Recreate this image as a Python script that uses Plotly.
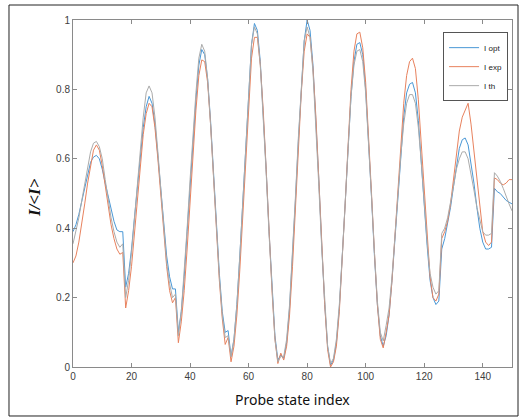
import plotly.graph_objects as go

x_index = list(range(151))

i_opt = [
    0.39, 0.41, 0.44, 0.48, 0.52, 0.56, 0.59, 0.605, 0.61, 0.60, 0.57, 0.53, 0.49, 0.45, 0.42, 0.395, 0.39, 0.39,
    0.23, 0.27, 0.34, 0.43, 0.52, 0.61, 0.69, 0.75, 0.78, 0.76, 0.70, 0.61, 0.51, 0.41, 0.32, 0.26, 0.225, 0.225,
    0.10, 0.16, 0.26, 0.39, 0.52, 0.65, 0.77, 0.87, 0.915, 0.90, 0.83, 0.71, 0.56, 0.41, 0.27, 0.16, 0.10, 0.105,
    0.03, 0.08, 0.18, 0.32, 0.48, 0.64, 0.80, 0.93, 0.99, 0.97, 0.88, 0.74, 0.57, 0.39, 0.22, 0.09, 0.02, 0.035,
    0.025, 0.07, 0.17, 0.31, 0.48, 0.65, 0.81, 0.94, 1.0, 0.97, 0.87, 0.72, 0.54, 0.35, 0.18, 0.06, 0.005, 0.02,
    0.07, 0.17, 0.31, 0.47, 0.63, 0.78, 0.88, 0.93, 0.935, 0.90, 0.80, 0.66, 0.49, 0.32, 0.18, 0.09, 0.06, 0.09,
    0.15, 0.25, 0.37, 0.50, 0.62, 0.72, 0.79, 0.815, 0.82, 0.79, 0.71, 0.60, 0.47, 0.35, 0.25, 0.20, 0.18, 0.19,
    0.34, 0.37, 0.41, 0.46, 0.52, 0.58, 0.63, 0.655, 0.66, 0.64, 0.59, 0.53, 0.46, 0.40, 0.36, 0.34, 0.34, 0.345,
    0.515, 0.505, 0.50, 0.49, 0.48, 0.475, 0.47,
]

i_exp = [
    0.30, 0.32, 0.36, 0.41, 0.47, 0.53, 0.58, 0.625, 0.64, 0.625, 0.58, 0.52, 0.46, 0.41, 0.37, 0.34, 0.325, 0.33,
    0.17, 0.22, 0.29, 0.38, 0.48, 0.58, 0.67, 0.73, 0.76, 0.75, 0.69, 0.60, 0.49, 0.38, 0.29, 0.22, 0.185, 0.20,
    0.07, 0.13, 0.22, 0.34, 0.48, 0.61, 0.74, 0.84, 0.885, 0.88, 0.82, 0.70, 0.55, 0.39, 0.25, 0.14, 0.065, 0.085,
    0.015, 0.06, 0.15, 0.28, 0.44, 0.60, 0.76, 0.89, 0.95, 0.95, 0.87, 0.74, 0.57, 0.39, 0.22, 0.08, 0.01, 0.04,
    0.02, 0.06, 0.15, 0.29, 0.46, 0.63, 0.79, 0.91, 0.96, 0.95, 0.86, 0.72, 0.54, 0.35, 0.18, 0.05, 0.0, 0.015,
    0.06, 0.16, 0.30, 0.47, 0.64, 0.80, 0.91, 0.96, 0.965, 0.92, 0.82, 0.67, 0.50, 0.33, 0.18, 0.08, 0.055, 0.10,
    0.15, 0.25, 0.38, 0.52, 0.65, 0.76, 0.84, 0.88, 0.89, 0.86, 0.77, 0.64, 0.50, 0.37, 0.26, 0.20, 0.19, 0.21,
    0.37, 0.39, 0.42, 0.47, 0.54, 0.61, 0.68, 0.72, 0.74, 0.76, 0.70, 0.62, 0.53, 0.45, 0.39, 0.36, 0.35, 0.36,
    0.545, 0.54, 0.53, 0.525, 0.53, 0.54, 0.54,
]

i_th = [
    0.355, 0.39, 0.43, 0.48, 0.53, 0.58, 0.62, 0.645, 0.65, 0.635, 0.60, 0.54, 0.48, 0.43, 0.39, 0.36, 0.345, 0.355,
    0.20, 0.25, 0.33, 0.43, 0.53, 0.63, 0.72, 0.79, 0.81, 0.79, 0.72, 0.62, 0.51, 0.40, 0.30, 0.24, 0.20, 0.21,
    0.09, 0.16, 0.27, 0.40, 0.54, 0.67, 0.79, 0.89, 0.93, 0.91, 0.83, 0.70, 0.55, 0.40, 0.26, 0.15, 0.085, 0.09,
    0.03, 0.08, 0.18, 0.32, 0.48, 0.65, 0.81, 0.93, 0.98, 0.96, 0.87, 0.73, 0.56, 0.38, 0.21, 0.08, 0.015, 0.03,
    0.03, 0.08, 0.18, 0.32, 0.49, 0.66, 0.82, 0.94, 0.98, 0.95, 0.85, 0.70, 0.52, 0.34, 0.18, 0.06, 0.01, 0.025,
    0.08, 0.18, 0.32, 0.48, 0.64, 0.78, 0.87, 0.91, 0.915, 0.88, 0.79, 0.65, 0.49, 0.33, 0.19, 0.10, 0.075, 0.12,
    0.17, 0.26, 0.38, 0.50, 0.61, 0.70, 0.76, 0.785, 0.785, 0.76, 0.69, 0.59, 0.47, 0.36, 0.27, 0.23, 0.21, 0.22,
    0.385, 0.40, 0.43, 0.47, 0.52, 0.57, 0.60, 0.62, 0.62, 0.60, 0.56, 0.51, 0.46, 0.42, 0.39, 0.38, 0.38, 0.385,
    0.56, 0.55, 0.535, 0.515, 0.49, 0.47, 0.45,
]

x_ticks = [0, 20, 40, 60, 80, 100, 120, 140]
y_ticks = [0, 0.2, 0.4, 0.6, 0.8, 1]
y_tick_labels = ["0", "0.2", "0.4", "0.6", "0.8", "1"]

series = [
    ("I opt", i_opt, "#4a98d6"),
    ("I exp", i_exp, "#e8825e"),
    ("I th", i_th, "#ababab"),
]

fig = go.Figure()
for name, vals, col in series:
    fig.add_trace(go.Scatter(x=x_index, y=vals, mode="lines", name=name,
                             line=dict(color=col, width=1)))

axis_common = dict(
    showline=True, linecolor="#8a8a8a", linewidth=1, mirror="ticks",
    ticks="inside", ticklen=4, tickcolor="#8a8a8a", showgrid=False, zeroline=False,
    tickfont=dict(family="Liberation Sans, Arial", size=10, color="#404040"),
)

fig.update_layout(
    width=522, height=419,
    margin=dict(l=73, r=10, t=20, b=52),
    paper_bgcolor="white", plot_bgcolor="white",
    xaxis=dict(range=[0, 150], tickvals=x_ticks, **axis_common),
    yaxis=dict(range=[0, 1], tickvals=y_ticks, ticktext=y_tick_labels, **axis_common),
    legend=dict(x=0.843, y=0.965, xanchor="left", yanchor="top",
                bgcolor="white", bordercolor="#555555", borderwidth=1,
                font=dict(family="Liberation Sans, Arial", size=8, color="#222222"),
                itemwidth=30, tracegroupgap=0),
    showlegend=True,
    annotations=[
        dict(text="Probe state index", xref="paper", yref="paper", x=0.5, y=-0.095,
             xanchor="center", yanchor="middle", showarrow=False,
             font=dict(family="Noto Sans, Open Sans", size=14, color="#111111")),
        dict(text="<b><i>I/&lt;I&gt;</i></b>", xref="paper", yref="paper", x=-0.0866, y=0.49,
             xanchor="center", yanchor="middle", showarrow=False, textangle=-90,
             font=dict(family="Liberation Serif, DejaVu Serif", size=17, color="#111111")),
    ],
    shapes=[
        dict(type="rect", xref="paper", yref="paper", x0=-0.1458, x1=1.0137, y0=-0.1412, y1=1.0432,
             line=dict(color="#222222", width=1), fillcolor="rgba(0,0,0,0)", layer="above"),
    ],
)

fig.write_html("out.html", config={"displayModeBar": False},
               post_script="document.body.style.margin='0';document.body.style.overflow='hidden';")
